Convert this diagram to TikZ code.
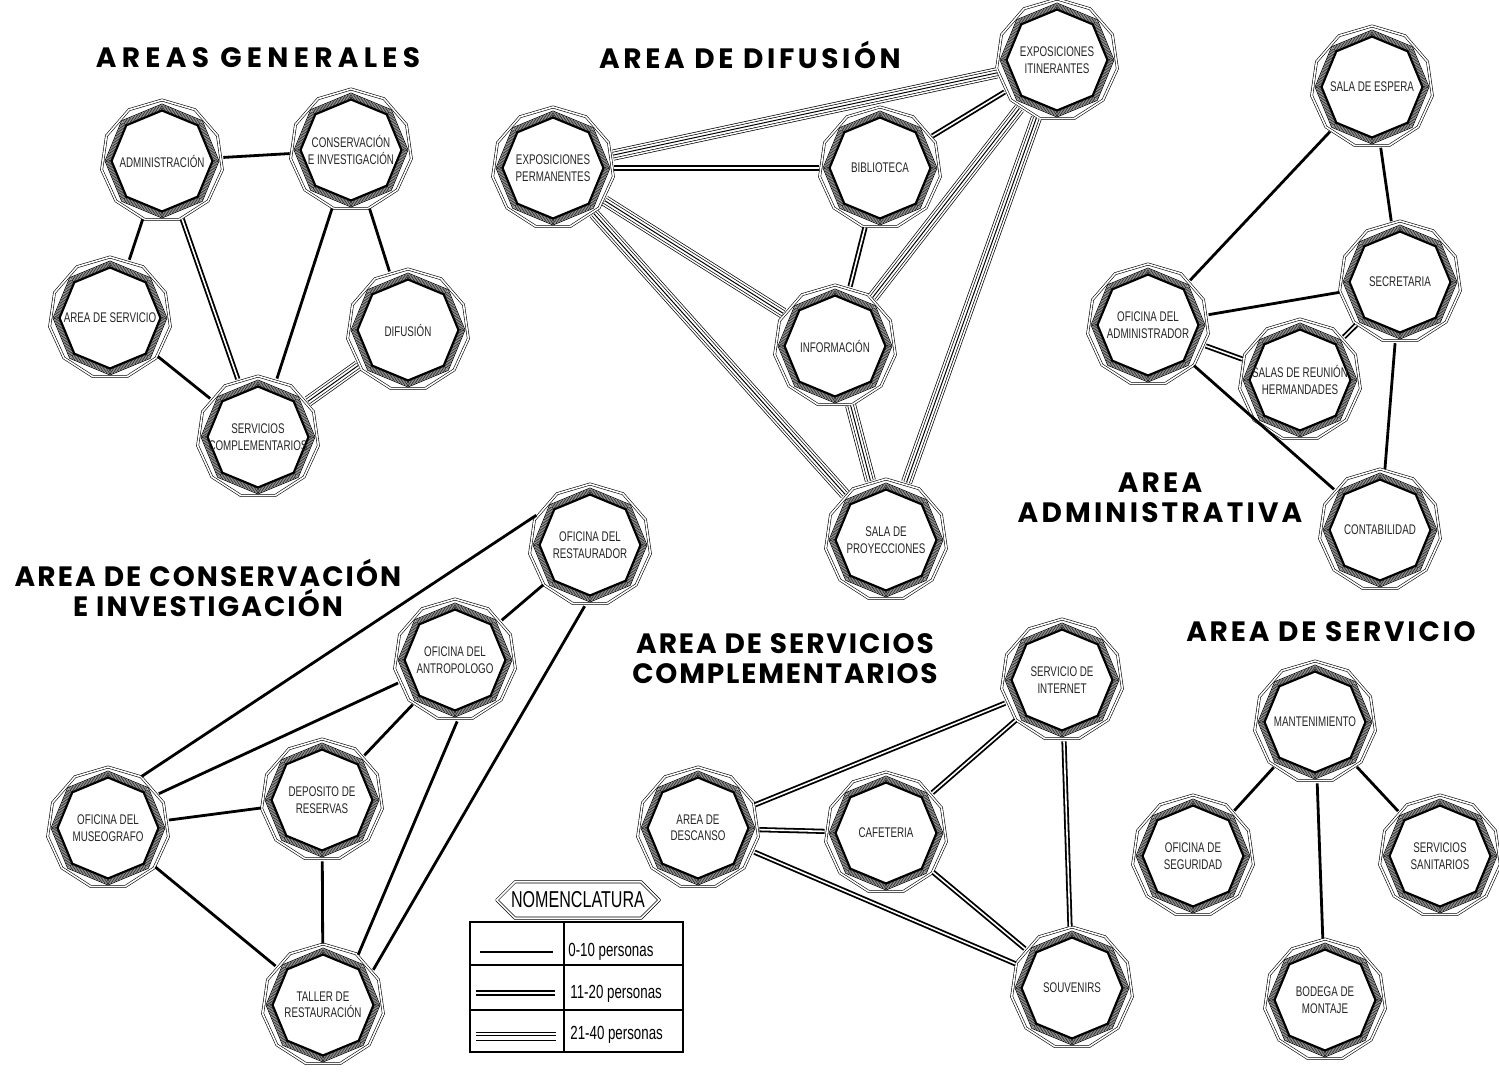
\documentclass[tikz,border=0pt]{standalone}
\usepackage{fontspec}
\usetikzlibrary{shapes.geometric,shapes.misc}
\newfontfamily\lblfont[FakeStretch=0.70]{Liberation Sans}
\newfontfamily\ttlfont{Poppins}
\tikzset{
  outring/.style={regular polygon, regular polygon sides=11, minimum size=61pt, inner sep=0pt,
     draw=black, line width=0.3pt, double=white, double distance=0.8pt, fill=white},
  thinoct/.style={regular polygon, regular polygon sides=8, shape border rotate=22.5,
     minimum size=57pt, inner sep=0pt, draw, line width=0.35pt},
  hatchbase/.style={regular polygon, regular polygon sides=8, shape border rotate=22.5,
     minimum size=54pt, inner sep=0pt, draw=black!30, line width=2.2pt},
  hatchoct/.style={regular polygon, regular polygon sides=8, shape border rotate=22.5,
     minimum size=54pt, inner sep=0pt, draw=black!85, line width=2.4pt, dash pattern=on 0.3pt off 0.45pt},
  inoct/.style={regular polygon, regular polygon sides=8, shape border rotate=22.5,
     minimum size=50.5pt, inner sep=0pt, draw, line width=1.1pt},
  bubnode/.style={circle, minimum size=61pt, inner sep=0pt, align=center,
     font=\lblfont\fontsize{7}{8.2}\selectfont, text=black!85},
  eone/.style={line width=1.4pt},
  etwo/.style={line width=0.9pt, double=white, double distance=0.8pt},
  ethree/.style={line width=5.5pt, postaction={draw=white,line width=4.8pt},
     postaction={draw=black,line width=3.2pt}, postaction={draw=white,line width=2.5pt},
     postaction={draw=black,line width=0.5pt}},
  ttl/.style={font=\ttlfont\bfseries\fontsize{14}{15}\selectfont, align=center},
  leg/.style={font=\lblfont\fontsize{9.5}{10}\selectfont, anchor=west, inner sep=0pt}
}
\newcommand\bub[3]{%
  \node[outring] at #2 {};
  \node[thinoct] at #2 {};
  \node[hatchbase] at #2 {};
  \node[hatchoct] at #2 {};
  \node[inoct] at #2 {};
  \node[bubnode] (#1) at #2 {#3};
}
\newcommand\lsp[1]{\addfontfeature{LetterSpace=#1}}
\begin{document}
\begin{tikzpicture}[x=0.5pt,y=-0.5pt]
\useasboundingbox[fill=white] (0,0) rectangle (1499,1071);

% titles
\node[ttl] (t1) at (258,58) {\lsp{19}AREAS GENERALES};
\node[ttl] (t2) at (750,55) {\lsp{13}AREA DE DIFUSIÓN};
\node[ttl] (t3) at (1160,498) {\lsp{11.5}AREA\\\lsp{11.5}ADMINISTRATIVA};
\node[ttl] (t4) at (208,588) {\lsp{7.5}AREA DE CONSERVACIÓN\\\lsp{7.5}E INVESTIGACIÓN};
\node[ttl] (t5) at (785,659) {\lsp{7}AREA DE SERVICIOS\\\lsp{6.5}COMPLEMENTARIOS};
\node[ttl] (t6) at (1331,632) {\lsp{10}AREA DE SERVICIO};

% Areas generales
\bub{adm}{(162,161)}{ADMINISTRACIÓN}
\bub{cons}{(351,150)}{CONSERVACIÓN\\E INVESTIGACIÓN}
\bub{aser}{(110,318)}{AREA DE SERVICIO}
\bub{dif}{(408,330)}{DIFUSIÓN}
\bub{scom}{(258,437)}{SERVICIOS\\COMPLEMENTARIOS}

% Area de difusion
\bub{eperm}{(553,168)}{EXPOSICIONES\\PERMANENTES}
\bub{eitin}{(1057,60)}{EXPOSICIONES\\ITINERANTES}
\bub{bib}{(880,168)}{BIBLIOTECA}
\bub{inf}{(835,346)}{INFORMACIÓN}
\bub{sproy}{(886,540)}{SALA DE\\PROYECCIONES}

% Area administrativa
\bub{sesp}{(1372,87)}{SALA DE ESPERA}
\bub{secr}{(1400,282)}{SECRETARIA}
\bub{ofadm}{(1148,325)}{OFICINA DEL\\ADMINISTRADOR}
\bub{sreu}{(1300,380)}{SALAS DE REUNIÓN\\HERMANDADES}
\bub{cont}{(1380,530)}{CONTABILIDAD}

% Area de conservacion
\bub{ores}{(590,545)}{OFICINA DEL\\RESTAURADOR}
\bub{oant}{(455,660)}{OFICINA DEL\\ANTROPOLOGO}
\bub{omus}{(108,828)}{OFICINA DEL\\MUSEOGRAFO}
\bub{dep}{(322,800)}{DEPOSITO DE\\RESERVAS}
\bub{tall}{(323,1005)}{TALLER DE\\RESTAURACIÓN}

% Servicios complementarios
\bub{inet}{(1062,680)}{SERVICIO DE\\INTERNET}
\bub{desc}{(698,828)}{AREA DE\\DESCANSO}
\bub{caf}{(886,833)}{CAFETERIA}
\bub{souv}{(1072,988)}{SOUVENIRS}

% Area de servicio
\bub{mant}{(1315,722)}{MANTENIMIENTO}
\bub{segu}{(1193,856)}{OFICINA DE\\SEGURIDAD}
\bub{sani}{(1440,856)}{SERVICIOS\\SANITARIOS}
\bub{bod}{(1325,1000)}{BODEGA DE\\MONTAJE}

% connectors: areas generales
\draw[eone] (adm) -- (cons);
\draw[eone] (adm) -- (aser);
\draw[etwo] (adm) -- (scom);
\draw[eone] (cons) -- (scom);
\draw[eone] (cons) -- (dif);
\draw[eone] (aser) -- (scom);
\draw[ethree] (dif) -- (scom);

% difusion
\draw[ethree] (eperm) -- (eitin);
\draw[etwo] (eperm) -- (bib);
\draw[ethree] (eperm) -- (inf);
\draw[ethree] (eperm) -- (sproy);
\draw[etwo] (eitin) -- (bib);
\draw[ethree] (eitin) -- (inf);
\draw[ethree] (eitin) -- (sproy);
\draw[etwo] (bib) -- (inf);
\draw[ethree] (inf) -- (sproy);

% administrativa
\draw[eone] (sesp) -- (secr);
\draw[eone] (sesp) -- (ofadm);
\draw[eone] (ofadm) -- (secr);
\draw[etwo] (ofadm) -- (sreu);
\draw[etwo] (secr) -- (sreu);
\draw[eone] (secr) -- (cont);
\draw[eone] (ofadm) -- (cont);

% conservacion
\draw[eone] (ores.151) -- (omus.57);
\draw[eone] (ores) -- (oant);
\draw[eone] (ores.265) -- (tall.35);
\draw[eone] (oant.202) -- (omus.34);
\draw[eone] (oant) -- (dep);
\draw[eone] (oant.272) -- (tall.55);
\draw[eone] (omus) -- (dep);
\draw[eone] (omus) -- (tall);
\draw[eone] (dep) -- (tall);

% servicios complementarios
\draw[etwo] (inet) -- (desc);
\draw[etwo] (inet) -- (caf);
\draw[etwo] (inet) -- (souv);
\draw[etwo] (desc) -- (caf);
\draw[etwo] (desc) -- (souv);
\draw[etwo] (caf) -- (souv);

% servicio
\draw[eone] (mant) -- (segu);
\draw[eone] (mant) -- (sani);
\draw[eone] (mant) -- (bod);

% legend
\node[chamfered rectangle, chamfered rectangle xsep=5pt, chamfered rectangle ysep=4pt,
      minimum width=81pt, minimum height=15pt, inner sep=1pt, draw, line width=0.35pt,
      double=white, double distance=0.8pt,
      font=\lblfont\fontsize{11.5}{12}\selectfont] (nom) at (578,900) {NOMENCLATURA};
\draw[line width=1.2pt] (470,922) rectangle (683,1052);
\draw[line width=0.6pt] (564,922) -- (564,1052);
\draw[line width=0.6pt] (470,965) -- (683,965);
\draw[line width=0.6pt] (470,1010) -- (683,1010);
\coordinate (l1a) at (480,952); \coordinate (l1b) at (553,952);
\coordinate (l2a) at (476,993); \coordinate (l2b) at (555,993);
\coordinate (l3a) at (476,1035); \coordinate (l3b) at (556,1035);
\draw[eone] (l1a) -- (l1b);
\draw[etwo] (l2a) -- (l2b);
\draw[ethree] (l3a) -- (l3b);
\node[leg] (p1) at (568,952) {0-10 personas};
\node[leg] (p2) at (570,994) {11-20 personas};
\node[leg] (p3) at (570,1035) {21-40 personas};
\end{tikzpicture}
\end{document}
